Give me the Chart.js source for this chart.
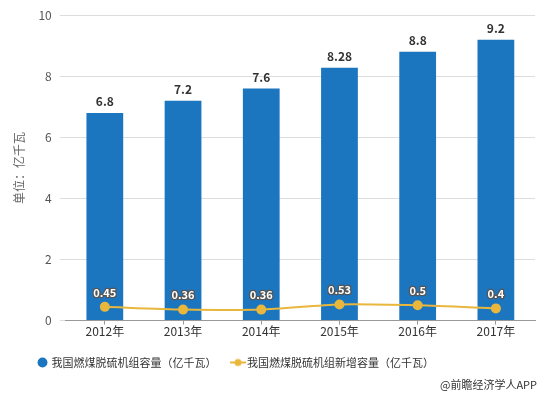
<!DOCTYPE html>
<html>
<head>
<meta charset="utf-8">
<script src="https://cdn.jsdelivr.net/npm/chart.js@4"></script>
<style>
  body { margin: 0; background: #fff; }
  #wrap { width: 543px; height: 397px; position: relative; }
</style>
</head>
<body>
<div id="wrap"><canvas id="myChart" width="543" height="397"></canvas></div>
<script>
// data
const years = ['2012年', '2013年', '2014年', '2015年', '2016年', '2017年'];
const capacity = [6.8, 7.2, 7.6, 8.28, 8.8, 9.2];
const added = [0.45, 0.36, 0.36, 0.53, 0.5, 0.4];
const seriesNames = ['我国燃煤脱硫机组容量（亿千瓦）', '我国燃煤脱硫机组新增容量（亿千瓦）'];

const FONT = '"Noto Sans CJK SC", "Noto Sans", sans-serif';

// little legend marker for the line: line with a dot
const lineMarker = document.createElement('canvas');
lineMarker.width = 16; lineMarker.height = 10;
(function () {
    const c = lineMarker.getContext('2d');
    c.strokeStyle = '#e8b73c'; c.lineWidth = 2;
    c.beginPath(); c.moveTo(0, 5); c.lineTo(16, 5); c.stroke();
    c.fillStyle = '#e8b73c';
    c.beginPath(); c.arc(8, 5, 3.5, 0, Math.PI * 2); c.fill();
})();

// value labels + watermark text
const labelPlugin = {
    id: 'labels',
    beforeDraw(chart) {
        // legend sits left of centre in the original
        chart.legend.left = 21;
    },
    afterDatasetsDraw(chart) {
        const ctx = chart.ctx;
        ctx.save();
        ctx.textAlign = 'center';
        ctx.textBaseline = 'bottom';
        // bar labels
        chart.getDatasetMeta(0).data.forEach((bar, i) => {
            ctx.font = 'bold 12px ' + FONT;
            ctx.fillStyle = '#333';
            ctx.fillText(capacity[i], bar.x, bar.y - 5);
        });
        // line labels
        chart.getDatasetMeta(1).data.forEach((pt, i) => {
            ctx.font = 'bold 11px ' + FONT;
            ctx.lineWidth = 2.5;
            ctx.strokeStyle = '#555';
            ctx.lineJoin = 'round';
            ctx.strokeText(added[i], pt.x, pt.y - 9);
            ctx.fillStyle = '#fff';
            ctx.fillText(added[i], pt.x, pt.y - 9);
        });
        // source text
        ctx.font = '11px ' + FONT;
        ctx.fillStyle = '#333';
        ctx.textAlign = 'right';
        ctx.textBaseline = 'middle';
        ctx.fillText('@前瞻经济学人APP', 537, 385);
        ctx.restore();
    }
};

const chart = new Chart(document.querySelector('#myChart').getContext('2d'), {
    type: 'bar',
    data: {
        labels: years,
        datasets: [{
            type: 'bar',
            label: seriesNames[0],
            data: capacity,
            backgroundColor: '#1b75bf',
            barPercentage: 0.47,
            categoryPercentage: 1,
            order: 2
        }, {
            type: 'line',
            label: seriesNames[1],
            data: added,
            borderColor: '#e8b73c',
            backgroundColor: '#e8b73c',
            borderWidth: 2,
            pointRadius: 4,
            pointHoverRadius: 4,
            tension: 0.25,
            order: 1
        }]
    },
    options: {
        responsive: false,
        animation: false,
        layout: { padding: { left: 8, right: 8, top: 6, bottom: 19 } },
        plugins: {
            tooltip: { enabled: false },
            legend: {
                position: 'bottom',
                align: 'start',
                labels: {
                    font: { size: 11, family: FONT },
                    color: '#333',
                    usePointStyle: true,
                    boxWidth: 7,
                    boxHeight: 7,
                    padding: 18,
                    generateLabels(chart) {
                        return [{
                            text: seriesNames[0], pointStyle: 'circle',
                            fillStyle: '#1b75bf', strokeStyle: '#1b75bf', lineWidth: 0,
                            datasetIndex: 0, fontColor: '#333'
                        }, {
                            text: seriesNames[1], pointStyle: lineMarker,
                            fillStyle: '#e8b73c', strokeStyle: '#e8b73c', lineWidth: 0,
                            datasetIndex: 1, fontColor: '#333'
                        }];
                    }
                }
            }
        },
        scales: {
            x: {
                grid: { display: true, drawOnChartArea: false, offset: false, tickLength: 4, color: '#999' },
                border: { color: '#999' },
                ticks: { font: { size: 12, family: FONT }, color: '#333', padding: 0 }
            },
            y: {
                min: 0, max: 10,
                ticks: { stepSize: 2, font: { size: 12, family: FONT }, color: '#555', padding: 8 },
                grid: { color: '#ddd', drawTicks: true, tickLength: 6 },
                border: { display: false },
                title: { display: true, text: '单位：亿千瓦', font: { size: 12, family: FONT }, color: '#666' }
            }
        }
    },
    plugins: [labelPlugin]
});
</script>
</body>
</html>
